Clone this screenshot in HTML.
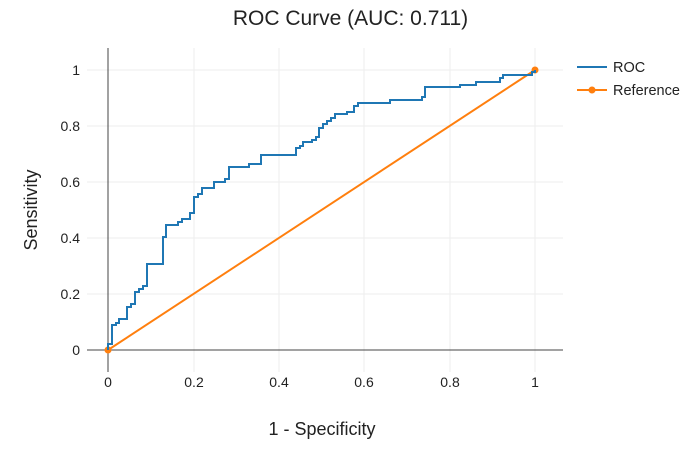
<!DOCTYPE html>
<html><head><style>body{margin:0;background:#fff}svg{display:block;font-family:"Liberation Sans",Arial,sans-serif}</style></head>
<body>
<svg width="700" height="450" viewBox="0 0 700 450">
<rect width="700" height="450" fill="#fff"/>
<g stroke="#eeeeee" stroke-width="1">
<line x1="194" y1="48" x2="194" y2="372"/><line x1="279" y1="48" x2="279" y2="372"/><line x1="364" y1="48" x2="364" y2="372"/><line x1="450" y1="48" x2="450" y2="372"/><line x1="535" y1="48" x2="535" y2="372"/>
<line x1="87" y1="294" x2="563" y2="294"/><line x1="87" y1="238" x2="563" y2="238"/><line x1="87" y1="182" x2="563" y2="182"/><line x1="87" y1="126" x2="563" y2="126"/><line x1="87" y1="70" x2="563" y2="70"/>
</g>
<line x1="108" y1="48" x2="108" y2="372" stroke="#444" stroke-width="1"/>
<line x1="87" y1="350" x2="563" y2="350" stroke="#444" stroke-width="1"/>
<g font-size="14" fill="#222" text-anchor="middle">
<text x="108" y="387">0</text><text x="194" y="387">0.2</text><text x="279" y="387">0.4</text><text x="364" y="387">0.6</text><text x="450" y="387">0.8</text><text x="535" y="387">1</text>
</g>
<g font-size="14" fill="#222" text-anchor="end">
<text x="80" y="355">0</text><text x="80" y="299">0.2</text><text x="80" y="243">0.4</text><text x="80" y="187">0.6</text><text x="80" y="131">0.8</text><text x="80" y="75">1</text>
</g>
<text x="350.5" y="25" font-size="21" fill="#222" text-anchor="middle">ROC Curve (AUC: 0.711)</text>
<text x="322" y="435" font-size="18" fill="#222" text-anchor="middle">1 - Specificity</text>
<text transform="translate(37,210) rotate(-90)" font-size="18" fill="#222" text-anchor="middle">Sensitivity</text>
<line x1="108" y1="350" x2="535" y2="70" stroke="#ff7f0e" stroke-width="2"/>
<circle cx="108" cy="350" r="3.5" fill="#ff7f0e"/><circle cx="535" cy="70" r="3.5" fill="#ff7f0e"/>
<path fill="none" stroke="#1f77b4" stroke-width="2" d="M108,350 V344 H112 V325 H116 V323 H119 V319 H127 V307 H131 V304 H135 V292 H139 V289 H143 V286 H147 V264 H163 V237 H166 V225 H178 V222 H182 V219 H190 V213 H194 V197 H198 V194 H202 V188 H214 V182 H225 V179 H229 V167 H249 V164 H261 V155 H296 V148 H300 V146 H303 V142 H312 V140 H316 V137 H319 V128 H323 V124 H327 V121 H331 V118 H335 V114 H347 V112 H354 V106 H358 V103 H390 V100 H422 V97 H425 V87 H460 V85 H476 V82 H500 V78 H503 V75 H532 V72 H535 V70"/>
<line x1="577" y1="67" x2="607" y2="67" stroke="#1f77b4" stroke-width="2"/>
<text x="613" y="72" font-size="14.5" fill="#222">ROC</text>
<line x1="577" y1="90" x2="607" y2="90" stroke="#ff7f0e" stroke-width="2"/>
<circle cx="592" cy="90" r="3.5" fill="#ff7f0e"/>
<text x="613" y="95" font-size="14.5" fill="#222">Reference</text>
</svg>
</body></html>
